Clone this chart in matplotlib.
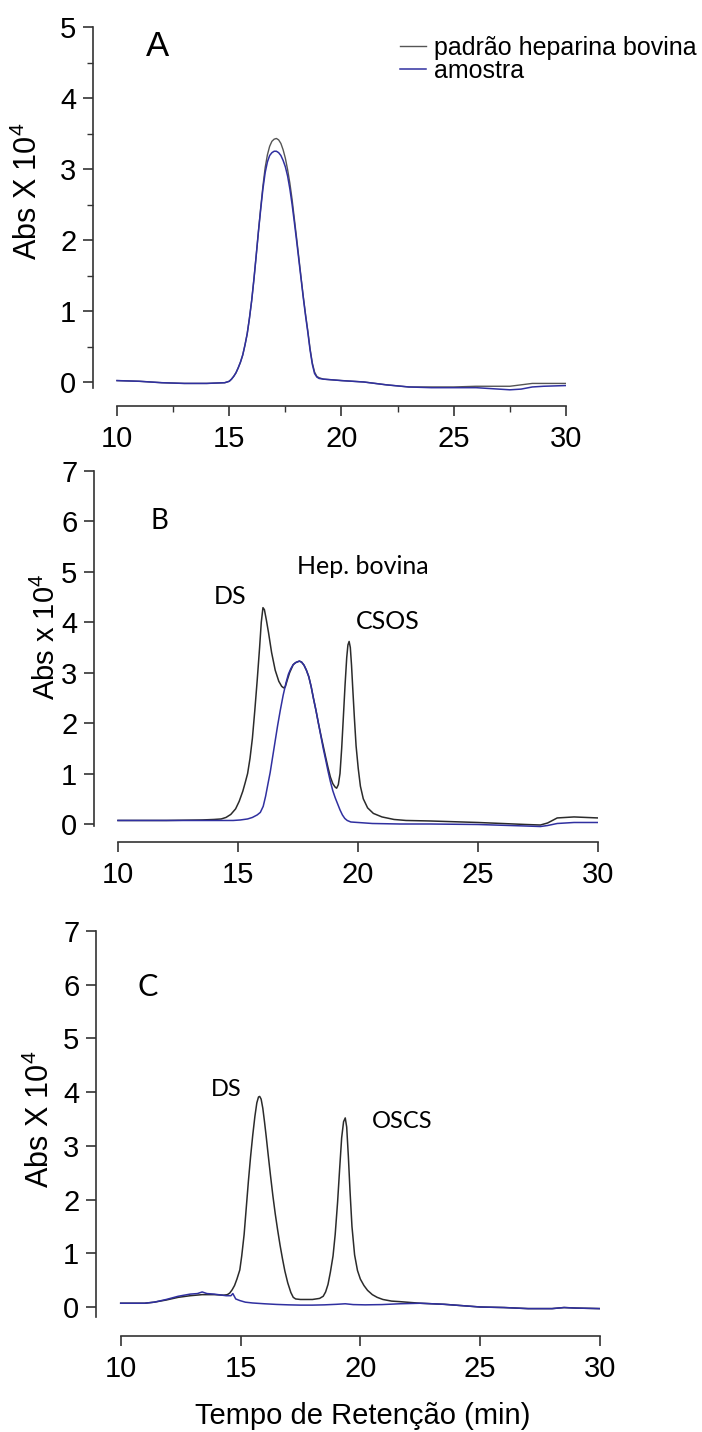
import matplotlib
matplotlib.use('Agg')
import matplotlib.pyplot as plt

plt.rcParams['mathtext.default'] = 'regular'

# ---- data (retention time in min, Abs x 10^4) ----
# panel A
a_time_padrao = [10, 11, 12, 13, 14, 14.8, 15.0, 15.1, 15.2, 15.3, 15.4, 15.5, 15.6, 15.7,
                 15.8, 15.9, 16.0, 16.1, 16.2, 16.3, 16.4, 16.5, 16.6, 16.7, 16.8, 16.9,
                 17.0, 17.1, 17.2, 17.3, 17.4, 17.5, 17.6, 17.7, 17.8, 17.9, 18.0, 18.1,
                 18.2, 18.3, 18.4, 18.5, 18.6, 18.7, 18.8, 18.9, 19.0, 19.2, 20, 21, 22, 23,
                 24, 25, 26, 27, 27.5, 28, 28.5, 29, 30]
a_padrao = [0.02, 0.01, -0.01, -0.02, -0.02, -0.01, 0.01, 0.04, 0.08, 0.13, 0.2, 0.28, 0.38,
            0.52, 0.68, 0.9, 1.15, 1.45, 1.78, 2.12, 2.45, 2.76, 3.02, 3.2, 3.32, 3.39, 3.42,
            3.43, 3.41, 3.36, 3.27, 3.15, 2.99, 2.8, 2.57, 2.3, 2.03, 1.75, 1.47, 1.2, 0.95,
            0.72, 0.47, 0.27, 0.14, 0.08, 0.06, 0.04, 0.02, 0.0, -0.04, -0.07, -0.07, -0.07,
            -0.06, -0.06, -0.06, -0.04, -0.02, -0.02, -0.02]
a_time_amostra = a_time_padrao
a_amostra = [0.02, 0.01, -0.01, -0.02, -0.02, -0.01, 0.01, 0.04, 0.08, 0.13, 0.2, 0.28, 0.38,
             0.52, 0.68, 0.9, 1.15, 1.45, 1.78, 2.12, 2.43, 2.72, 2.95, 3.1, 3.19, 3.23, 3.25,
             3.25, 3.23, 3.19, 3.12, 3.03, 2.9, 2.72, 2.5, 2.25, 1.99, 1.72, 1.45, 1.18, 0.93,
             0.7, 0.45, 0.25, 0.12, 0.07, 0.05, 0.04, 0.02, 0.0, -0.04, -0.07, -0.08, -0.08,
             -0.08, -0.1, -0.11, -0.1, -0.07, -0.06, -0.05]

# panel B
b_time_padrao = [10, 12, 13.5, 14.0, 14.3, 14.5, 14.7, 14.9, 15.05, 15.2, 15.3, 15.4, 15.5,
                 15.6, 15.7, 15.8, 15.9, 15.97, 16.04, 16.1, 16.18, 16.27, 16.4, 16.55, 16.7,
                 16.82, 16.9, 16.97, 17.05, 17.15, 17.3, 17.4, 17.5, 17.56, 17.65, 17.75,
                 17.85, 17.95, 18.05, 18.14, 18.25, 18.35, 18.45, 18.55, 18.65, 18.75, 18.85,
                 18.95, 19.05, 19.11, 19.18, 19.25, 19.32, 19.39, 19.46, 19.53, 19.58, 19.63,
                 19.68, 19.73, 19.78, 19.85, 19.92, 20.01, 20.1, 20.22, 20.4, 20.64, 21.0,
                 21.5, 22, 23, 25, 27, 27.6, 27.9, 28.3, 29, 30]
b_padrao = [0.07, 0.07, 0.08, 0.09, 0.1, 0.13, 0.19, 0.3, 0.45, 0.65, 0.82, 1.0, 1.3, 1.7,
            2.25, 2.85, 3.5, 4.0, 4.29, 4.25, 4.05, 3.8, 3.4, 3.05, 2.83, 2.73, 2.7, 2.72,
            2.85, 3.0, 3.16, 3.2, 3.22, 3.23, 3.21, 3.15, 3.05, 2.92, 2.72, 2.5, 2.25, 2.0,
            1.77, 1.55, 1.33, 1.12, 0.93, 0.8, 0.73, 0.71, 0.78, 1.0, 1.5, 2.12, 2.75, 3.3,
            3.55, 3.62, 3.5, 3.15, 2.7, 2.1, 1.55, 1.1, 0.75, 0.5, 0.32, 0.21, 0.14, 0.09,
            0.07, 0.06, 0.03, -0.01, -0.02, 0.02, 0.12, 0.14, 0.12]
b_time_amostra = [10, 12, 13.5, 14.3, 14.8, 15.1, 15.4, 15.6, 15.8, 15.93, 16.05, 16.15,
                  16.25, 16.34, 16.45, 16.55, 16.65, 16.76, 16.88, 17.0, 17.1, 17.2, 17.3,
                  17.4, 17.5, 17.56, 17.65, 17.75, 17.85, 17.95, 18.05, 18.14, 18.25, 18.35,
                  18.45, 18.55, 18.65, 18.75, 18.85, 18.95, 19.05, 19.15, 19.25, 19.35,
                  19.45, 19.55, 19.7, 20.0, 20.6, 21.75, 23, 25, 27, 27.6, 27.9, 28.3, 29, 30]
b_amostra = [0.07, 0.07, 0.07, 0.07, 0.07, 0.08, 0.1, 0.13, 0.18, 0.23, 0.35, 0.55, 0.8,
             1.02, 1.35, 1.65, 1.95, 2.25, 2.55, 2.8, 2.97, 3.08, 3.16, 3.2, 3.22, 3.23,
             3.21, 3.15, 3.05, 2.92, 2.72, 2.5, 2.25, 2.0, 1.75, 1.5, 1.28, 1.05, 0.84,
             0.66, 0.52, 0.4, 0.28, 0.18, 0.11, 0.07, 0.04, 0.03, 0.01, 0.0, 0.0, -0.01,
             -0.04, -0.05, -0.03, 0.01, 0.03, 0.03]

# panel C
c_time_padrao = [10, 11, 11.4, 11.9, 12.4, 12.9, 13.4, 13.9, 14.3, 14.45, 14.55, 14.65,
                 14.75, 14.85, 14.97, 15.05, 15.15, 15.24, 15.33, 15.42, 15.51, 15.6, 15.68,
                 15.75, 15.8, 15.86, 15.93, 16.0, 16.07, 16.15, 16.25, 16.35, 16.45, 16.55,
                 16.65, 16.75, 16.85, 16.97, 17.1, 17.2, 17.3, 17.5, 18.0, 18.3, 18.45, 18.55,
                 18.65, 18.75, 18.86, 18.95, 19.05, 19.14, 19.22, 19.3, 19.37, 19.43, 19.5,
                 19.57, 19.65, 19.76, 19.88, 20.0, 20.15, 20.3, 20.5, 20.7, 20.94, 21.3,
                 21.64, 22.5, 23.5, 25, 26, 27, 28, 28.5, 29, 30]
c_padrao = [0.07, 0.07, 0.09, 0.13, 0.18, 0.21, 0.23, 0.23, 0.22, 0.23, 0.26, 0.32, 0.4,
            0.52, 0.69, 0.95, 1.35, 1.85, 2.35, 2.8, 3.2, 3.55, 3.8, 3.91, 3.92, 3.87, 3.7,
            3.45, 3.18, 2.85, 2.45, 2.07, 1.73, 1.43, 1.15, 0.9, 0.67, 0.45, 0.27, 0.18,
            0.15, 0.14, 0.14, 0.16, 0.2, 0.28, 0.42, 0.65, 0.95, 1.35, 1.95, 2.6, 3.15, 3.45,
            3.52, 3.35, 2.8, 2.15, 1.5, 0.97, 0.68, 0.52, 0.4, 0.31, 0.23, 0.18, 0.14, 0.11,
            0.1, 0.07, 0.05, 0.0, -0.01, -0.03, -0.03, -0.01, -0.02, -0.03]
c_time_amostra = [10, 11, 11.4, 11.9, 12.4, 12.9, 13.2, 13.4, 13.6, 13.9, 14.4, 14.6, 14.68,
                  14.8, 14.97, 15.2, 15.5, 16.0, 16.5, 17.0, 17.5, 18.0, 18.5, 19.0, 19.37,
                  19.7, 20.2, 20.9, 21.64, 22.5, 23.5, 25, 26, 27, 28, 28.5, 29, 30]
c_amostra = [0.07, 0.07, 0.09, 0.14, 0.2, 0.24, 0.25, 0.28, 0.25, 0.24, 0.21, 0.21, 0.25,
             0.15, 0.12, 0.09, 0.075, 0.06, 0.048, 0.04, 0.035, 0.035, 0.04, 0.05, 0.06,
             0.045, 0.04, 0.045, 0.06, 0.07, 0.05, 0.0, -0.01, -0.03, -0.03, -0.01, -0.02,
             -0.03]

legend_labels = ['padrão heparina bovina', 'amostra']
x_ticks = [10, 15, 20, 25, 30]

W, H = 702, 1432
BLACK = '#2b2b2b'
BLUE = '#3030a0'
ARIAL = ['Liberation Sans', 'DejaVu Sans']
CALIB = ['Lato', 'DejaVu Sans']


def fx(px):
    return px / W


def fy(py):
    return 1 - py / H


def make_axes(fig, left, right, top, bottom, x10, x30, y0, ymax, spine_low):
    ax = fig.add_axes([fx(left), fy(bottom), (right - left) / W, (bottom - top) / H])
    xs = (x30 - x10) / 20.0
    ys = (y0 - top) / ymax
    ax.set_xlim(10 - (x10 - left) / xs, 30 + (right - x30) / xs)
    ax.set_ylim(-(bottom - y0) / ys, ymax)
    for s in ['top', 'right']:
        ax.spines[s].set_visible(False)
    for s in ['left', 'bottom']:
        ax.spines[s].set_linewidth(1.2)
        ax.spines[s].set_color('#333333')
    ax.spines['bottom'].set_bounds(10, 30)
    ax.spines['left'].set_bounds(spine_low, ymax)
    ax.set_xticks(x_ticks)
    ax.set_yticks(range(0, ymax + 1))
    ax.tick_params(axis='both', which='major', direction='out', length=7, width=1.2,
                   color='#333333', labelsize=21)
    ax.tick_params(axis='x', pad=7)
    ax.tick_params(axis='y', pad=5)
    for lab in ax.get_xticklabels() + ax.get_yticklabels():
        lab.set_family(ARIAL)
    ax.patch.set_alpha(0)
    return ax


fig = plt.figure(figsize=(W / 100, H / 100), dpi=100)

# Panel A
axA = make_axes(fig, 93, 566, 27, 406, 117, 566, 382, 5, -0.085)
axA.set_xticks([12.5, 17.5, 22.5, 27.5], minor=True)
axA.set_yticks([0.5, 1.5, 2.5, 3.5, 4.5], minor=True)
axA.tick_params(which='minor', direction='out', length=4, width=1.0, color='#333333')
l1, = axA.plot(a_time_padrao, a_padrao, color='#555555', lw=1.0, label=legend_labels[0])
l2, = axA.plot(a_time_amostra, a_amostra, color=BLUE, lw=1.1, label=legend_labels[1])
axA.legend(handles=[l1, l2], loc='upper left', bbox_to_anchor=(fx(400), fy(36)),
           bbox_transform=fig.transFigure, frameon=False, borderaxespad=0, borderpad=0,
           handlelength=1.05, handletextpad=0.3, labelspacing=-0.05,
           prop={'family': ARIAL, 'size': 18})
fig.text(fx(158), fy(46), 'A', ha='center', va='center', fontsize=25, family=ARIAL)
fig.text(fx(28), fy(191), 'Abs X 10$^4$', rotation=90, ha='center', va='center',
         fontsize=22, family=ARIAL)

# Panel B
axB = make_axes(fig, 94, 598, 471, 842, 118, 598, 824, 7, -0.03)
axB.plot(b_time_padrao, b_padrao, color=BLACK, lw=1.1)
axB.plot(b_time_amostra, b_amostra, color=BLUE, lw=1.1)
fig.text(fx(159), fy(521), 'B', ha='center', va='center', fontsize=20, family=CALIB)
fig.text(fx(230), fy(597), 'DS', ha='center', va='center', fontsize=18, family=CALIB)
fig.text(fx(363), fy(567), 'Hep. bovina', ha='center', va='center', fontsize=18, family=CALIB)
fig.text(fx(388), fy(621), 'CSOS', ha='center', va='center', fontsize=18, family=CALIB)
fig.text(fx(46), fy(637), 'Abs x 10$^4$', rotation=90, ha='center', va='center',
         fontsize=21, family=ARIAL)

# Panel C
axC = make_axes(fig, 96, 600, 931, 1336, 120.7, 600, 1307, 7, -0.19)
axC.plot(c_time_padrao, c_padrao, color=BLACK, lw=1.1)
axC.plot(c_time_amostra, c_amostra, color=BLUE, lw=1.1)
fig.text(fx(148), fy(987), 'C', ha='center', va='center', fontsize=22, family=CALIB)
fig.text(fx(226), fy(1090), 'DS', ha='center', va='center', fontsize=17, family=CALIB)
fig.text(fx(402), fy(1122), 'OSCS', ha='center', va='center', fontsize=17, family=CALIB)
fig.text(fx(40), fy(1119), 'Abs X 10$^4$', rotation=90, ha='center', va='center',
         fontsize=22, family=ARIAL)
fig.text(fx(363), fy(1416), 'Tempo de Retenção (min)', ha='center', va='center',
         fontsize=21, family=ARIAL)

fig.savefig('out.png', dpi=100)
